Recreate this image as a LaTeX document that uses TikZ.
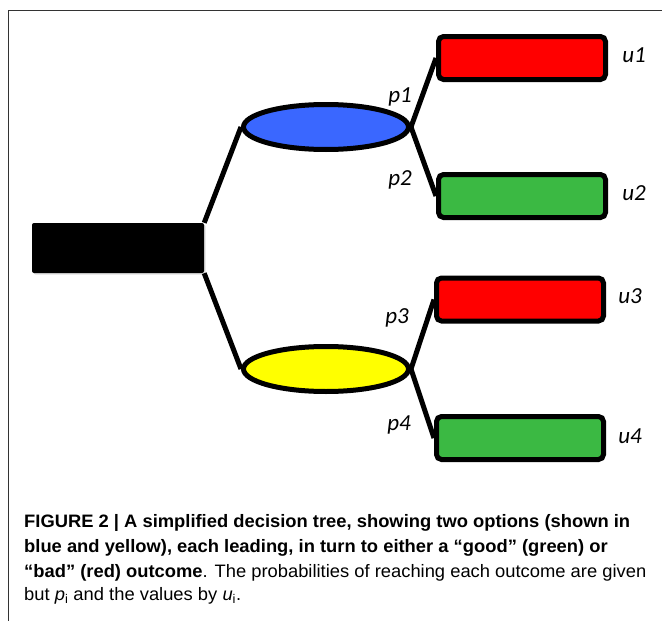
\documentclass[tikz,border=0pt]{standalone}
\usepackage{fontspec}
\setmainfont{Liberation Sans}
\newfontfamily\capfont[FakeStretch=1.02]{Liberation Sans}
\newfontfamily\lblfont{Carlito}
\usetikzlibrary{shapes.geometric,shadows}
\definecolor{cred}{HTML}{FF0000}
\definecolor{cgreen}{HTML}{3BB943}
\definecolor{cblue}{HTML}{3A67FF}
\definecolor{cyellow}{HTML}{FFFF00}
\begin{document}
\begin{tikzpicture}[x=1pt,y=-1pt,
  outbox/.style={draw=black,line width=5pt,rounded corners=5pt,minimum width=167pt,minimum height=43pt,inner sep=0pt,
     drop shadow={shadow xshift=1.5pt,shadow yshift=-1.5pt,opacity=0.25}},
  option/.style={ellipse,draw=black,line width=5pt,minimum width=165pt,minimum height=45pt,inner sep=0pt},
  conn/.style={line width=5pt},
  lbl/.style={font=\lblfont\itshape\fontsize{23}{27}\selectfont,inner sep=0pt},
  capline/.style={anchor=base west,inner sep=0pt,font=\capfont\fontsize{18}{21}\selectfont}
]
\useasboundingbox (0,0) rectangle (662,621);
\fill[white] (0,0) rectangle (662,621);
% frame
\draw[line width=1pt,black!80] (8,621) -- (8,10) -- (662,10);
% root
\node[fill=black,rounded corners=2pt,minimum width=172pt,minimum height=50pt,inner sep=0pt,
  drop shadow={shadow xshift=1.5pt,shadow yshift=-1.5pt,opacity=0.25}] (root) at (118,248) {};
% options
\node[option,fill=cblue] (blue) at (326,127) {};
\node[option,fill=cyellow] (yellow) at (326,369) {};
% outcomes
\node[outbox,fill=cred] (o1) at (522,58) {};
\node[outbox,fill=cgreen] (o2) at (522,196) {};
\node[outbox,fill=cred] (o3) at (520,299.5) {};
\node[outbox,fill=cgreen] (o4) at (520,438) {};
% connectors
\draw[conn] (root.north east) -- (blue.west);
\draw[conn] (root.south east) -- (yellow.west);
\draw[conn] (blue.east) -- (o1.west);
\draw[conn] (blue.east) -- (o2.west);
\draw[conn] (yellow.east) -- (o3.west);
\draw[conn] (yellow.east) -- (o4.west);
% labels
\node[lbl] (p1) at (400,97) {p1};
\node[lbl] (p2) at (400,180) {p2};
\node[lbl] (p3) at (397,318) {p3};
\node[lbl] (p4) at (399,425) {p4};
\node[lbl] (u1) at (634,55) {u1};
\node[lbl] (u2) at (634,193) {u2};
\node[lbl] (u3) at (630,296) {u3};
\node[lbl] (u4) at (630,436) {u4};
% caption
\node[capline] (c1) at (24,527) {\bfseries FIGURE 2 | A simplified decision tree, showing two options (shown in};
\node[capline] (c2) at (24,552) {\bfseries blue and yellow), each leading, in turn to either a “good” (green) or};
\node[capline] (c3) at (24,577) {{\bfseries “bad” (red) outcome}. The probabilities of reaching each outcome are given};
\node[capline] (c4) at (24,600) {but {\itshape p}\textsubscript{i} and the values by {\itshape u}\textsubscript{i}.};
\end{tikzpicture}
\end{document}
